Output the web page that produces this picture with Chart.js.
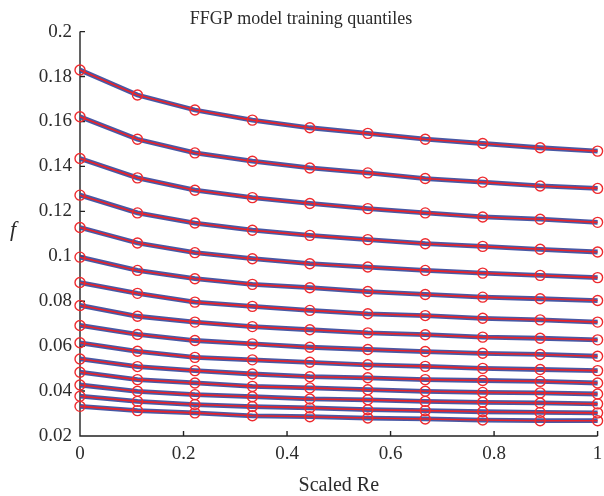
<!DOCTYPE html>
<html>
<head>
<meta charset="utf-8">
<script src="https://cdn.jsdelivr.net/npm/chart.js@4"></script>
<style>
  body { margin: 0; background: #fff; }
  #wrap { width: 604px; height: 496px; }
</style>
</head>
<body>
<div id="wrap"><canvas id="quantChart" width="604" height="496"></canvas></div>
<script>
// scaled Re positions of the training points
let scaledRe = [0, 0.111, 0.222, 0.333, 0.444, 0.556, 0.667, 0.778, 0.889, 1];

// quantile curves, top to bottom
let q01 = [0.1829, 0.1718, 0.1651, 0.1606, 0.1572, 0.1547, 0.1521, 0.1502, 0.1483, 0.1468];
let q02 = [0.1621, 0.1521, 0.146, 0.1423, 0.1393, 0.1371, 0.1346, 0.133, 0.1313, 0.1302];
let q03 = [0.1435, 0.1349, 0.1294, 0.1261, 0.1235, 0.1212, 0.1193, 0.1175, 0.1165, 0.1151];
let q04 = [0.1272, 0.1193, 0.1148, 0.1116, 0.1093, 0.1074, 0.1056, 0.1044, 0.1031, 0.1019];
let q05 = [0.1128, 0.1059, 0.1016, 0.0989, 0.0967, 0.0952, 0.0937, 0.0925, 0.0915, 0.0905];
let q06 = [0.0996, 0.0937, 0.09, 0.0875, 0.086, 0.0843, 0.083, 0.0818, 0.0811, 0.0803];
let q07 = [0.0883, 0.0835, 0.0796, 0.0777, 0.0759, 0.0744, 0.0736, 0.0724, 0.0717, 0.0707];
let q08 = [0.0781, 0.0733, 0.0707, 0.0687, 0.0673, 0.0659, 0.0651, 0.064, 0.0635, 0.0628];
let q09 = [0.0692, 0.0652, 0.0625, 0.061, 0.0595, 0.0585, 0.0576, 0.0568, 0.0563, 0.0555];
let q10 = [0.0615, 0.0577, 0.055, 0.0539, 0.0528, 0.0517, 0.051, 0.0501, 0.0496, 0.0491];
let q11 = [0.0543, 0.0509, 0.0491, 0.0476, 0.0464, 0.0459, 0.0451, 0.0447, 0.0443, 0.0436];
let q12 = [0.0484, 0.0451, 0.0436, 0.0421, 0.0414, 0.0406, 0.0399, 0.0394, 0.0392, 0.0387];
let q13 = [0.0427, 0.0399, 0.0384, 0.0375, 0.0365, 0.0361, 0.0354, 0.035, 0.0347, 0.0343];
let q14 = [0.0377, 0.0354, 0.034, 0.0331, 0.0325, 0.0317, 0.0313, 0.0308, 0.0305, 0.0303];
let q15 = [0.0332, 0.0313, 0.0303, 0.029, 0.0286, 0.028, 0.0276, 0.0271, 0.0268, 0.0268];

let xTicks = [0, 0.2, 0.4, 0.6, 0.8, 1];
let yTicks = [0.02, 0.04, 0.06, 0.08, 0.1, 0.12, 0.14, 0.16, 0.18, 0.2];

let quantiles = [q01, q02, q03, q04, q05, q06, q07, q08, q09, q10, q11, q12, q13, q14, q15];

const SERIF = "'Liberation Serif', 'DejaVu Serif', serif";
const INK = "#2b2b2b";

function toPoints(vals) {
  return vals.map(function (v, i) {
    return { x: scaledRe[i], y: v };
  });
}

// blue model curve underneath, red training points + line on top
let datasets = [];
for (let i = 0; i < quantiles.length; i++) {
  datasets.push({
    data: toPoints(quantiles[i]),
    borderColor: "rgba(52, 70, 155, 0.9)",
    borderWidth: 4.8,
    pointRadius: 0,
    tension: 0,
    clip: false,
    order: 2,
  });
  datasets.push({
    data: toPoints(quantiles[i]),
    borderColor: "#ec2227",
    borderWidth: 1.6,
    pointRadius: 5,
    pointBorderWidth: 1.4,
    pointBorderColor: "#ee2a2e",
    pointBackgroundColor: "rgba(0,0,0,0)",
    pointStyle: "circle",
    tension: 0,
    clip: false,
    order: 1,
  });
}

// axis lines with inward ticks, plus the italic f label
const axesPlugin = {
  id: "axesPlugin",
  beforeDatasetsDraw(chart) {
    const ctx = chart.ctx;
    const xs = chart.scales.x;
    const ys = chart.scales.y;
    const left = xs.getPixelForValue(0);
    const right = xs.getPixelForValue(1);
    const top = ys.getPixelForValue(0.2);
    const bottom = ys.getPixelForValue(0.02);
    ctx.save();
    ctx.strokeStyle = "#222";
    ctx.lineWidth = 1.4;
    ctx.beginPath();
    ctx.moveTo(left, top);
    ctx.lineTo(left, bottom);
    ctx.lineTo(right, bottom);
    yTicks.forEach(function (t) {
      let py = ys.getPixelForValue(t);
      ctx.moveTo(left, py);
      ctx.lineTo(left + 5, py);
    });
    xTicks.forEach(function (t) {
      let px = xs.getPixelForValue(t);
      ctx.moveTo(px, bottom);
      ctx.lineTo(px, bottom - 5);
    });
    ctx.stroke();
    ctx.fillStyle = INK;
    ctx.font = "italic 22px " + SERIF;
    ctx.textAlign = "center";
    ctx.textBaseline = "middle";
    ctx.fillText("f", 13, 230);
    ctx.restore();
  },
};

window.addEventListener("load", function () {
  var ctx = document.getElementById("quantChart").getContext("2d");
  var quantChart = new Chart(ctx, {
    type: "line",
    data: { datasets: datasets },
    plugins: [axesPlugin],
    options: {
      responsive: false,
      animation: false,
      layout: { padding: { top: 0, right: 2, bottom: 0, left: 0 } },
      plugins: {
        legend: { display: false },
        tooltip: { enabled: false },
        title: {
          display: true,
          text: "FFGP model training quantiles",
          color: INK,
          font: { family: SERIF, size: 18, weight: "normal" },
          padding: { top: 8, bottom: 2 },
        },
      },
      scales: {
        x: {
          type: "linear",
          min: 0,
          max: 1,
          grid: { display: false, drawTicks: false },
          border: { display: false },
          afterBuildTicks: function (scale) {
            scale.ticks = xTicks.map(function (v) { return { value: v }; });
          },
          afterFit: function (scale) {
            scale.height = 60;
            scale.paddingRight = 0;
          },
          ticks: {
            color: INK,
            font: { family: SERIF, size: 19 },
            padding: 7,
            maxRotation: 0,
            callback: function (v) { return String(v); },
          },
          title: {
            display: true,
            text: "Scaled Re",
            color: INK,
            font: { family: SERIF, size: 20, lineHeight: 1 },
            padding: { top: 0, bottom: 0 },
          },
        },
        y: {
          type: "linear",
          min: 0.02,
          max: 0.2,
          grid: { display: false, drawTicks: false },
          border: { display: false },
          afterBuildTicks: function (scale) {
            scale.ticks = yTicks.map(function (v) { return { value: v }; });
          },
          afterFit: function (scale) {
            scale.width = 80;
          },
          ticks: {
            color: INK,
            font: { family: SERIF, size: 19 },
            padding: 8,
            callback: function (v) { return String(Math.round(v * 100) / 100); },
          },
        },
      },
    },
  });
});
</script>
</body>
</html>
